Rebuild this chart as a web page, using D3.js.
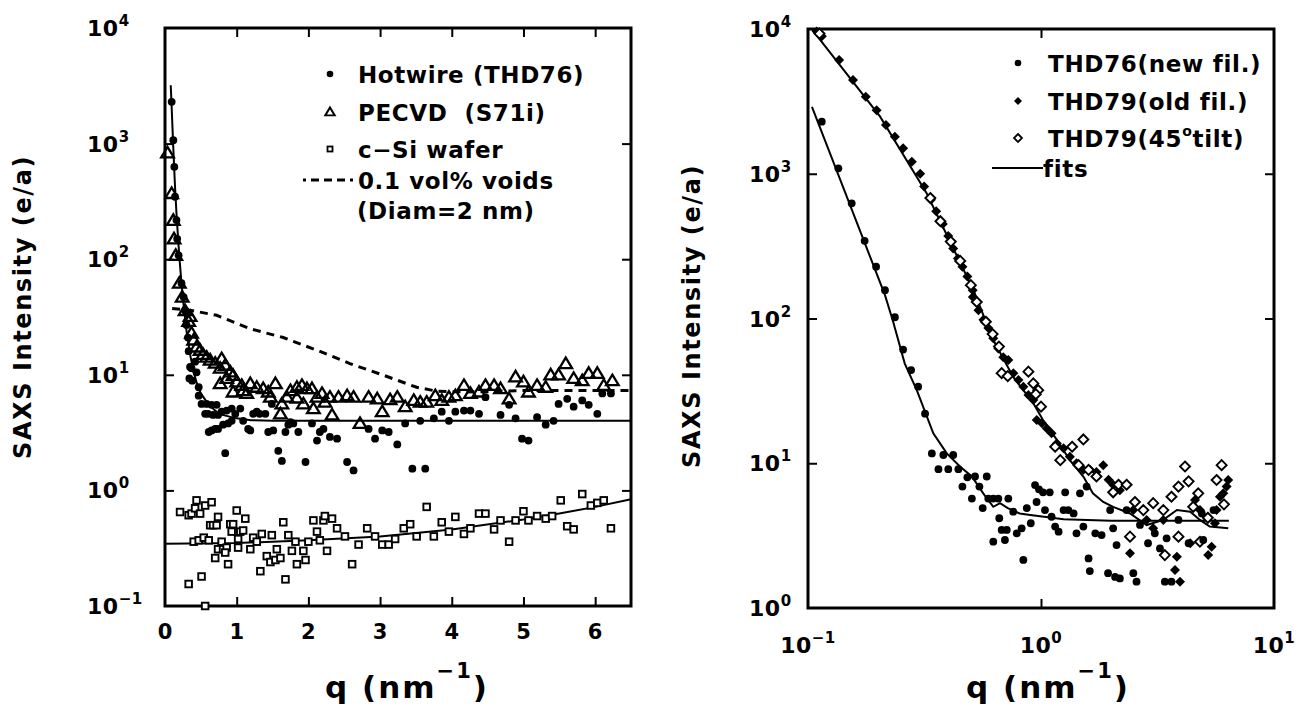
<!DOCTYPE html>
<html>
<head>
<meta charset="utf-8">
<script src="https://cdn.jsdelivr.net/npm/d3@7"></script>
<style>
  body { margin: 0; background: #fff; }
  text { font-family: "DejaVu Sans", sans-serif; font-weight: bold; fill: #000; }
</style>
</head>
<body>
<svg id="chart" width="1308" height="711"></svg>
<script>
// ---- left panel data: [q (nm^-1), intensity (e/a)] ----
const hotwire = [[0.093,2300],[0.116,1070],[0.13,630],[0.14,347],[0.16,218],[0.17,150],[0.19,108],[0.23,62],[0.26,47],[0.28,36],[0.30,27],[0.32,21],[0.33,16],[0.35,11.7],[0.37,11.4],[0.34,9.3],[0.38,8.9],[0.42,13],[0.44,10.5],[0.47,7.8],[0.47,6.6],[0.51,5.6],[0.58,5.6],[0.65,5.5],[0.72,5.5],[0.56,4.6],[0.60,4.6],[0.67,4.5],[0.74,4.5],[0.79,4.8],[0.86,4.9],[0.93,5.1],[0.98,4.6],[1.05,5.1],[1.09,4.0],[1.16,3.4],[1.19,3.3],[0.61,3.2],[0.65,3.3],[0.70,3.4],[0.74,3.4],[0.81,3.7],[0.88,3.8],[0.93,4.0],[0.84,2.1],[1.23,4.6],[1.28,4.8],[1.32,4.6],[1.40,4.6],[1.44,3.2],[1.51,3.3],[1.49,5.6],[1.58,2.2],[1.63,1.8],[1.68,3.2],[1.72,3.7],[1.75,3.9],[1.79,3.8],[1.86,3.2],[1.96,1.76],[2.05,3.8],[2.12,2.7],[2.16,3.2],[2.21,3.4],[2.30,2.9],[2.40,2.8],[2.54,1.76],[2.63,1.49],[2.84,3.4],[2.93,2.8],[3.03,3.3],[3.12,3.2],[3.24,2.5],[3.35,3.8],[3.45,1.54],[3.56,4.0],[3.63,1.54],[3.75,4.2],[3.86,4.8],[3.96,4.0],[4.05,4.8],[4.17,4.9],[4.26,4.9],[4.38,4.6],[4.47,6.4],[4.68,4.5],[4.80,5.5],[4.89,4.2],[4.98,2.8],[5.07,2.7],[5.19,4.3],[5.31,3.7],[5.42,4.0],[5.49,5.6],[5.61,6.2],[5.70,5.3],[5.82,6.0],[5.91,5.5],[6.03,4.6],[6.10,6.9],[6.22,6.9]];

const pecvd = [[0.035,830],[0.093,370],[0.116,217],[0.126,150],[0.15,108],[0.20,62],[0.24,47],[0.28,36],[0.33,29],[0.35,32],[0.37,23],[0.40,20],[0.44,17.4],[0.49,16.3],[0.53,15],[0.58,14.2],[0.63,13.4],[0.70,12.6],[0.77,11.4],[0.79,13.8],[0.84,12.1],[0.77,8.4],[0.86,9.3],[0.91,10.6],[0.95,9.9],[0.95,7.1],[1.0,8.7],[1.07,8.1],[1.09,7.3],[1.14,6.9],[1.19,8.4],[1.28,7.8],[1.37,7.6],[1.44,7.1],[1.47,6.4],[1.54,8.4],[1.61,4.6],[1.63,5.6],[1.70,6.4],[1.75,7.3],[1.84,7.8],[1.84,6.3],[1.91,8.1],[1.93,5.6],[1.98,7.6],[2.05,7.6],[2.07,5.1],[2.12,6.4],[2.19,6.9],[2.23,5.8],[2.30,6.4],[2.33,4.5],[2.42,6.4],[2.54,6.6],[2.63,6.4],[2.72,3.8],[2.84,6.4],[2.96,6.2],[3.03,4.8],[3.14,6.1],[3.24,6.4],[3.35,5.3],[3.47,6.0],[3.56,5.8],[3.65,5.8],[3.77,6.6],[3.86,6.0],[3.96,6.4],[4.05,6.6],[4.17,8.1],[4.26,6.9],[4.38,7.1],[4.47,8.1],[4.59,8.1],[4.68,7.6],[4.80,6.2],[4.89,9.6],[5.00,8.7],[5.07,7.1],[5.19,8.1],[5.31,7.8],[5.38,10],[5.49,10],[5.59,12.5],[5.70,9.3],[5.82,8.9],[5.91,10.3],[6.03,10.3],[6.12,8.1],[6.24,8.9]];

const wafer = [[0.21,0.65],[0.33,0.61],[0.37,0.63],[0.44,0.82],[0.42,0.70],[0.49,0.63],[0.56,0.74],[0.65,0.79],[0.74,0.59],[0.63,0.50],[0.67,0.50],[0.72,0.50],[0.40,0.36],[0.47,0.37],[0.54,0.39],[0.61,0.37],[0.70,0.26],[0.79,0.36],[0.74,0.31],[0.81,0.31],[0.86,0.32],[0.84,0.29],[0.88,0.23],[0.91,0.51],[0.95,0.51],[0.93,0.44],[1.0,0.67],[1.05,0.44],[1.12,0.57],[1.09,0.45],[1.02,0.38],[1.02,0.32],[1.19,0.31],[1.23,0.39],[1.28,0.36],[1.35,0.42],[1.33,0.20],[1.42,0.27],[1.49,0.41],[1.47,0.24],[1.54,0.25],[1.56,0.31],[1.61,0.26],[1.65,0.53],[1.68,0.17],[1.72,0.41],[1.77,0.30],[1.82,0.36],[1.84,0.23],[1.93,0.30],[1.96,0.25],[2.00,0.36],[2.07,0.55],[2.12,0.44],[2.21,0.55],[2.23,0.60],[2.33,0.57],[2.16,0.37],[2.26,0.30],[2.40,0.47],[2.51,0.40],[2.61,0.23],[2.70,0.34],[2.82,0.47],[2.93,0.40],[3.03,0.34],[3.12,0.34],[3.21,0.38],[3.33,0.47],[3.42,0.51],[3.51,0.40],[3.65,0.72],[3.75,0.40],[3.86,0.53],[3.96,0.44],[4.05,0.59],[4.17,0.42],[4.26,0.47],[4.38,0.63],[4.47,0.63],[4.59,0.46],[4.68,0.55],[4.80,0.36],[4.89,0.55],[5.00,0.66],[5.07,0.55],[5.19,0.60],[5.31,0.57],[5.40,0.60],[5.52,0.82],[5.61,0.49],[5.70,0.46],[5.82,0.93],[5.94,0.74],[6.03,0.78],[6.12,0.82],[6.22,0.47],[0.33,0.155],[0.51,0.18],[0.56,0.10]];

const hotwireFit = [[0.08,3200],[0.09,2300],[0.10,1600],[0.12,800],[0.14,420],[0.16,250],[0.18,160],[0.20,105],[0.23,62],[0.26,40],[0.30,24],[0.35,15],[0.40,10.5],[0.45,8.2],[0.50,6.9],[0.60,5.6],[0.70,4.9],[0.80,4.5],[1.0,4.2],[1.2,4.05],[1.5,4.0],[6.5,4.0]];
const waferFit = [[0,0.345],[1,0.35],[2,0.37],[3,0.40],[4,0.46],[5,0.56],[5.5,0.63],[6,0.72],[6.5,0.84]];
const voids = [[0.1,37.4],[0.37,36],[0.72,32.7],[1.19,25],[1.65,21],[2.12,16.3],[2.58,12.5],[3.05,9.9],[3.51,7.8],[3.8,7.2],[4.2,7.1],[5.0,7.3],[6.5,7.3]];

// ---- right panel data ----
const thd76 = [[0.1146,2290],[0.135,1090],[0.154,625],[0.175,344],[0.196,228],[0.214,157],[0.236,102],[0.256,61],[0.277,44],[0.297,33.8],[0.318,22],[0.34,11.7],[0.381,11.4],[0.42,11.4],[0.363,9.1],[0.40,9.1],[0.442,9.1],[0.46,6.9],[0.483,8.0],[0.521,8.1],[0.544,6.9],[0.585,8.1],[0.505,5.7],[0.562,4.9],[0.594,5.7],[0.624,5.7],[0.656,5.7],[0.724,5.7],[0.662,4.17],[0.624,2.87],[0.678,3.46],[0.713,3.46],[0.70,2.95],[0.76,4.63],[0.787,3.28],[0.826,3.55],[0.84,2.15],[0.869,4.9],[0.904,3.85],[0.943,7.07],[0.98,6.6],[1.02,6.3],[1.09,6.3],[0.957,5.4],[1.04,4.75],[1.11,4.27],[1.15,3.65],[1.19,3.37],[1.27,6.3],[1.25,4.75],[1.31,4.75],[1.38,4.5],[1.42,3.28],[1.47,6.2],[1.57,6.9],[1.52,3.65],[1.6,2.2],[1.62,1.8],[1.71,3.28],[1.82,3.19],[1.94,1.74],[2.08,1.64],[2.18,1.6],[1.98,4.75],[2.04,3.55],[2.11,2.72],[2.33,4.75],[2.49,1.74],[2.57,1.52],[2.66,3.75],[2.88,2.8],[3.08,3.28],[3.24,2.58],[3.46,3.03],[3.4,1.52],[3.63,1.52],[3.89,4.06],[4.3,2.8],[4.97,2.95],[5.5,4.75],[4.9,4.5]];

const thd79old = [[0.109,9600],[0.1146,8900],[0.136,6100],[0.156,4450],[0.177,3400],[0.197,2750],[0.216,2170],[0.236,1800],[0.256,1500],[0.279,1210],[0.303,1000],[0.315,815],[0.337,660],[0.355,550],[0.379,450],[0.40,372],[0.42,305],[0.44,260],[0.46,228],[0.483,195],[0.509,157],[0.51,141],[0.539,114],[0.566,98],[0.594,86],[0.624,73],[0.656,62],[0.689,54],[0.724,51.7],[0.761,41.9],[0.80,37.6],[0.84,33.8],[0.883,29.6],[0.927,27.4],[0.959,19.9],[1.01,18.9],[1.06,17.4],[1.11,16.1],[1.17,13.7],[1.25,12.7],[1.33,11.1],[1.42,10],[1.52,9.0],[1.62,9.0],[1.73,8.7],[1.85,9.7],[1.95,7.7],[2.04,7.1],[2.18,6.5],[2.41,2.39],[2.84,4.06],[3.76,1.83],[3.95,1.52],[3.83,2.26],[4.37,2.8],[4.58,5.57],[4.81,4.75],[5.22,2.32],[5.4,2.65],[5.67,4.75],[5.86,5.87],[6.06,6.2],[6.26,6.9],[6.36,7.66],[5.58,3.85],[3.35,4.06],[2.49,4.75],[3.03,3.55]];

const thd79tilt = [[0.112,9300],[0.335,680],[0.37,470],[0.41,340],[0.45,250],[0.50,170],[0.53,130],[0.58,95],[0.62,78],[0.66,64],[0.678,41.9],[0.72,40],[0.883,42.9],[0.927,35.6],[0.973,32],[1.0,24.6],[0.95,30],[1.15,13],[1.21,10.5],[1.36,13],[1.52,14.6],[1.45,9.7],[1.6,9.0],[1.73,8.1],[2.04,6.3],[2.15,7.1],[2.33,7.1],[2.53,5.4],[2.75,4.75],[3.03,5.3],[3.35,4.75],[3.63,5.87],[3.89,6.9],[4.15,9.5],[4.3,7.5],[4.73,6.2],[5.67,7.66],[5.96,9.7],[2.41,3.11],[3.4,2.32],[3.89,3.11],[4.81,2.87],[4.5,5.0],[5.2,4.2],[6.1,5.2]];

const fit76 = [[0.104,2900],[0.214,145],[0.232,95],[0.26,49],[0.293,32],[0.345,16.1],[0.394,11.7],[0.449,9.5],[0.505,8.1],[0.565,6.2],[0.624,5.0],[0.667,5.3],[0.72,4.9],[0.81,4.5],[0.90,4.39],[1.25,4.1],[2.0,4.0],[6.4,4.0]];
const fit79 = [[0.104,9950],[0.204,2480],[0.323,733],[0.513,157],[0.624,71],[0.76,39.5],[0.927,26],[1.02,19.9],[1.17,14.5],[1.33,10.5],[1.52,8.1],[1.67,6.2],[1.85,5.4],[2.04,5.0],[2.41,4.5],[2.84,3.74],[3.35,4.06],[3.83,4.75],[4.37,4.63],[4.81,4.06],[5.3,3.65],[6.36,3.55]];

const yTicksL = [0.1, 1, 10, 100, 1000, 10000];
const xTicksL = [0, 1, 2, 3, 4, 5, 6];
const yTicksR = [1, 10, 100, 1000, 10000];
const xTicksR = [0.1, 1, 10];

const svg = d3.select("#chart");

const xL = d3.scaleLinear().domain([0, 6.5]).range([165, 631]);
const yL = d3.scaleLog().domain([0.1, 1e4]).range([606, 28]);
const xR = d3.scaleLog().domain([0.1, 10]).range([808, 1274]);
const yR = d3.scaleLog().domain([1, 1e4]).range([608, 29]);

const expOf = v => Math.round(Math.log10(v));
const supText = e => (e < 0 ? "\u2212" + (-e) : "" + e);

function frame(x, y, xt, yt) {
  const [x0, x1] = x.range();
  const [y0, y1] = y.range();
  const g = svg.append("g");
  const tick = (axis, tr) => {
    const a = g.append("g").attr("transform", tr)
      .call(axis.tickFormat("").tickSizeInner(-9).tickSizeOuter(0));
    a.select(".domain").remove();
    a.selectAll("line").attr("stroke", "#000").attr("stroke-width", 2);
  };
  const xin = xt.filter(v => x(v) > x0 + 2 && x(v) < x1 - 2);
  const yin = yt.filter(v => y(v) < y0 - 2 && y(v) > y1 + 2);
  tick(d3.axisBottom(x).tickValues(xin), `translate(0,${y0})`);
  tick(d3.axisTop(x).tickValues(xin), `translate(0,${y1})`);
  tick(d3.axisLeft(y).tickValues(yin), `translate(${x0},0)`);
  tick(d3.axisRight(y).tickValues(yin), `translate(${x1},0)`);
  g.append("rect")
    .attr("x", x0).attr("y", y1)
    .attr("width", x1 - x0).attr("height", y0 - y1)
    .attr("fill", "none").attr("stroke", "#000").attr("stroke-width", 3);
}

function powLabel(sel, v, size) {
  sel.append("tspan").text("10");
  sel.append("tspan").attr("font-size", size).attr("dy", -10).text(supText(expOf(v)));
}

function yTitle(x, y) {
  svg.append("text")
    .attr("transform", `translate(${x},${y}) rotate(-90)`)
    .attr("text-anchor", "middle")
    .attr("font-size", 24).attr("letter-spacing", 1.6)
    .text("SAXS Intensity (e/a)");
}

function xTitle(x) {
  const t = svg.append("text")
    .attr("x", x).attr("y", 698)
    .attr("text-anchor", "middle")
    .attr("font-size", 31).attr("letter-spacing", 2);
  t.append("tspan").text("q (nm");
  t.append("tspan").attr("font-size", 21).attr("dy", -20).text("\u22121");
  t.append("tspan").attr("dy", 20).text(")");
}

// marker shapes
const triPath = "M0,-6L6.3,4.5L-6.3,4.5Z";
const diaPath = r => `M0,${-r}L${r},0L0,${r}L${-r},0Z`;

function line(x, y, pts) {
  return d3.line().x(d => x(d[0])).y(d => y(d[1]))(pts);
}

// ================= LEFT PANEL =================
frame(xL, yL, xTicksL, yTicksL);

svg.append("path").attr("d", line(xL, yL, voids))
  .attr("fill", "none").attr("stroke", "#000").attr("stroke-width", 3)
  .attr("stroke-dasharray", "8,6");
svg.append("path").attr("d", line(xL, yL, hotwireFit))
  .attr("fill", "none").attr("stroke", "#000").attr("stroke-width", 2);
svg.append("path").attr("d", line(xL, yL, waferFit))
  .attr("fill", "none").attr("stroke", "#000").attr("stroke-width", 2);

svg.append("g").selectAll("path").data(pecvd).join("path")
  .attr("d", triPath)
  .attr("transform", d => `translate(${xL(d[0])},${yL(d[1])})`)
  .attr("fill", "none").attr("stroke", "#000").attr("stroke-width", 2.3);

svg.append("g").selectAll("circle").data(hotwire).join("circle")
  .attr("cx", d => xL(d[0])).attr("cy", d => yL(d[1])).attr("r", 3.9)
  .attr("fill", "#000");

svg.append("g").selectAll("rect").data(wafer).join("rect")
  .attr("x", d => xL(d[0]) - 3.3).attr("y", d => yL(d[1]) - 3.3)
  .attr("width", 6.6).attr("height", 6.6)
  .attr("fill", "#fff").attr("stroke", "#000").attr("stroke-width", 1.9);

svg.append("g").selectAll("text").data(xTicksL).join("text")
  .attr("x", d => xL(d)).attr("y", 639)
  .attr("text-anchor", "middle").attr("font-size", 21)
  .text(d => d);

svg.append("g").selectAll("text").data(yTicksL).join("text")
  .attr("x", 87).attr("y", d => yL(d) + 8)
  .attr("font-size", 22).attr("letter-spacing", 0.5)
  .each(function (d) { powLabel(d3.select(this), d, 15); });

yTitle(31, 307);
xTitle(407);

// legend (left)
const legL = svg.append("g").attr("font-size", 23);
legL.append("circle").attr("cx", 330).attr("cy", 74).attr("r", 3.3).attr("fill", "#000");
legL.append("path").attr("d", triPath).attr("transform", "translate(330,112) scale(0.75)")
  .attr("fill", "none").attr("stroke", "#000").attr("stroke-width", 2.6);
legL.append("rect").attr("x", 327.5).attr("y", 146.5).attr("width", 5).attr("height", 5)
  .attr("fill", "none").attr("stroke", "#000").attr("stroke-width", 1.8);
legL.append("line").attr("x1", 303).attr("x2", 357).attr("y1", 180).attr("y2", 180)
  .attr("stroke", "#000").attr("stroke-width", 3).attr("stroke-dasharray", "3,5,8,5,8,5,8,5");
const legTextL = [
  ["Hotwire (THD76)", 358, 74],
  ["PECVD\u00a0\u00a0(S71i)", 358, 112],
  ["c\u2212Si wafer", 358, 149],
  ["0.1 vol% voids", 358, 180],
  ["(Diam=2 nm)", 357, 210]
];
legL.selectAll("text").data(legTextL).join("text")
  .attr("x", d => d[1]).attr("y", d => d[2] + 8.5)
  .attr("letter-spacing", 0.6)
  .text(d => d[0]);

// ================= RIGHT PANEL =================
frame(xR, yR, xTicksR, yTicksR);

svg.append("path").attr("d", line(xR, yR, fit76))
  .attr("fill", "none").attr("stroke", "#000").attr("stroke-width", 2);
svg.append("path").attr("d", line(xR, yR, fit79))
  .attr("fill", "none").attr("stroke", "#000").attr("stroke-width", 2);

svg.append("g").selectAll("path").data(thd79old).join("path")
  .attr("d", diaPath(5))
  .attr("transform", d => `translate(${xR(d[0])},${yR(d[1])})`)
  .attr("fill", "#000");

svg.append("g").selectAll("path").data(thd79tilt).join("path")
  .attr("d", diaPath(5))
  .attr("transform", d => `translate(${xR(d[0])},${yR(d[1])})`)
  .attr("fill", "#fff").attr("stroke", "#000").attr("stroke-width", 1.9);

svg.append("g").selectAll("circle").data(thd76).join("circle")
  .attr("cx", d => xR(d[0])).attr("cy", d => yR(d[1])).attr("r", 3.9)
  .attr("fill", "#000");

svg.append("g").selectAll("text").data(xTicksR).join("text")
  .attr("x", d => xR(d)).attr("y", 653)
  .attr("text-anchor", "middle").attr("font-size", 22).attr("letter-spacing", 0.5)
  .each(function (d) { powLabel(d3.select(this), d, 15); });

svg.append("g").selectAll("text").data(yTicksR).join("text")
  .attr("x", 749).attr("y", d => yR(d) + 8)
  .attr("font-size", 22).attr("letter-spacing", 0.5)
  .each(function (d) { powLabel(d3.select(this), d, 15); });

yTitle(700, 316);
xTitle(1048);

// legend (right)
const legR = svg.append("g").attr("font-size", 23);
legR.append("circle").attr("cx", 1018).attr("cy", 63).attr("r", 3.3).attr("fill", "#000");
legR.append("path").attr("d", diaPath(4)).attr("transform", "translate(1018,101)").attr("fill", "#000");
legR.append("path").attr("d", diaPath(4)).attr("transform", "translate(1018,138)")
  .attr("fill", "#fff").attr("stroke", "#000").attr("stroke-width", 1.8);
legR.append("line").attr("x1", 992).attr("x2", 1043).attr("y1", 168).attr("y2", 168)
  .attr("stroke", "#000").attr("stroke-width", 2.2);
legR.append("text").attr("x", 1048).attr("y", 71.5).attr("letter-spacing", 0.7).text("THD76(new fil.)");
legR.append("text").attr("x", 1048).attr("y", 109.5).attr("letter-spacing", 0.7).text("THD79(old fil.)");
const tilt = legR.append("text").attr("x", 1048).attr("y", 146.5).attr("letter-spacing", 0.7);
tilt.append("tspan").text("THD79(45");
tilt.append("tspan").attr("font-size", 14).attr("dy", -11).text("o");
tilt.append("tspan").attr("dy", 11).text("tilt)");
legR.append("text").attr("x", 1043).attr("y", 176.5).attr("letter-spacing", 0.7).text("fits");
</script>
</body>
</html>
